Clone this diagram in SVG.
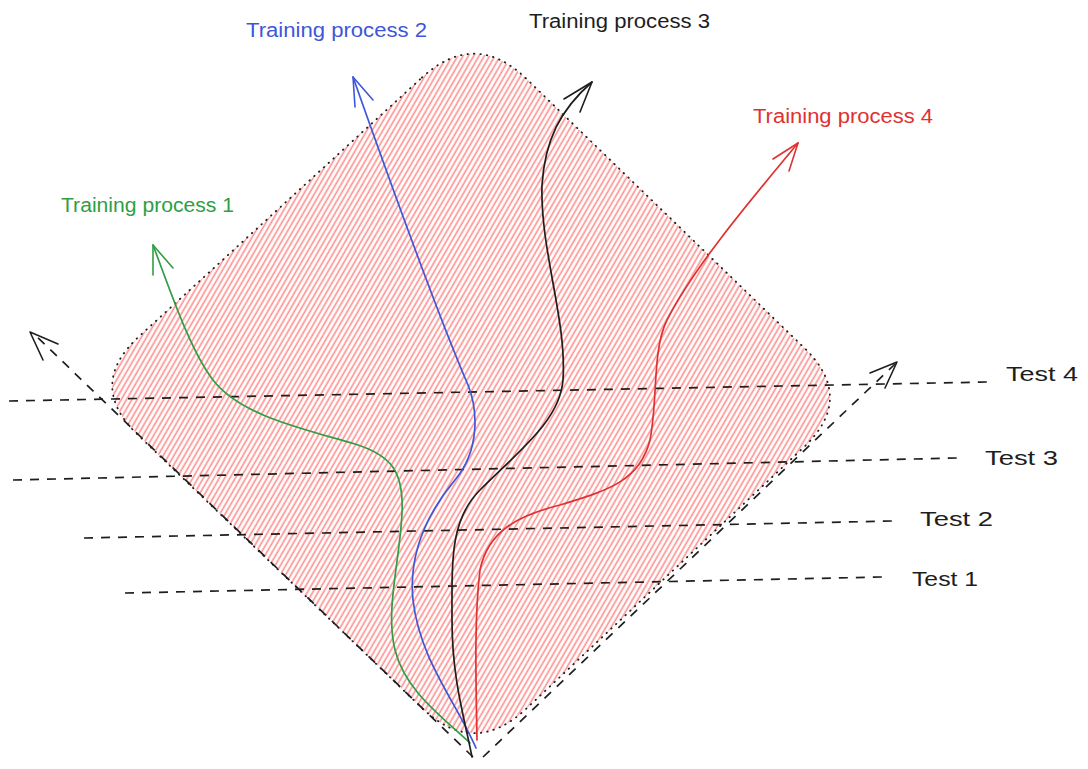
<svg xmlns="http://www.w3.org/2000/svg" width="1088" height="769" viewBox="0 0 1088 769">
<defs>
<pattern id="hatch" width="4.6" height="10" patternUnits="userSpaceOnUse" patternTransform="rotate(30)">
<rect width="4.6" height="10" fill="#ffffff"/>
<line x1="1.2" y1="0" x2="1.2" y2="10" stroke="#ff8f8f" stroke-width="1.6"/>
</pattern>
</defs>
<style>
.lbl{font-family:"Liberation Sans",Arial,sans-serif;font-size:20px;}
.dash{fill:none;stroke:#1e1e1e;stroke-width:1.7;stroke-dasharray:9 8;}
.head{fill:none;stroke-width:1.6;stroke-linecap:round;stroke-linejoin:round;}
.curve{fill:none;stroke-width:1.7;stroke-linecap:round;}
</style>
<rect width="1088" height="769" fill="#ffffff"/>
<g id="region">
<path d="M 421.9 77.6 Q 475 29 526.7 79.1 L 804.3 347.9 Q 856 398 803.6 447.4 L 526.4 708.6 Q 474 758 422.1 708.1 L 137.9 434.9 Q 86 385 139.1 336.4 Z" fill="url(#hatch)" stroke="#1e1e1e" stroke-width="1.8" stroke-dasharray="0.5 6" stroke-linecap="round"/>
</g>
<g id="tests">
<g id="test4"><path class="dash" d="M 9 401 L 988 382"/><text class="lbl" x="1006" y="381" textLength="72" lengthAdjust="spacingAndGlyphs" fill="#1e1e1e">Test 4</text></g>
<g id="test3"><path class="dash" d="M 13 480 L 957 458"/><text class="lbl" x="985" y="465" textLength="73" lengthAdjust="spacingAndGlyphs" fill="#1e1e1e">Test 3</text></g>
<g id="test2"><path class="dash" d="M 84 538 L 893 521"/><text class="lbl" x="920" y="526" textLength="73" lengthAdjust="spacingAndGlyphs" fill="#1e1e1e">Test 2</text></g>
<g id="test1"><path class="dash" d="M 125 593 L 883 577"/><text class="lbl" x="912" y="586" textLength="66" lengthAdjust="spacingAndGlyphs" fill="#1e1e1e">Test 1</text></g>
</g>
<g id="connectors">
<g id="axis-left"><path class="dash" d="M 473 757 L 33 333"/><path class="head" stroke="#1e1e1e" d="M 43 360 L 30 332 L 58 344"/></g>
<g id="axis-right"><path class="dash" d="M 483 757 L 895 364"/><path class="head" stroke="#1e1e1e" d="M 870 373 L 897 362 L 885 388"/></g>
<g id="tp1-curve"><path class="curve" stroke="#2f9e44" d="M 470 743 C 440 715, 405 690, 395 650 C 385 610, 400 560, 402 513 C 404 470, 390 455, 355 444 C 300 428, 240 415, 213 380 C 190 350, 170 290, 153 245"/><path class="head" stroke="#2f9e44" d="M 153 275 L 153 245 L 173 268"/></g>
<g id="tp2-curve"><path class="curve" stroke="#4056d8" d="M 476 748 C 455 700, 420 660, 413 600 C 408 550, 430 510, 455 480 C 480 450, 478 410, 468 385 C 440 320, 400 210, 353 77"/><path class="head" stroke="#4056d8" d="M 355 107 L 353 77 L 373 100"/></g>
<g id="tp3-curve"><path class="curve" stroke="#1e1e1e" d="M 472 757 C 465 720, 452 680, 452 620 C 452 560, 450 520, 480 490 C 520 450, 560 420, 563 380 C 567 320, 540 250, 542 185 C 545 140, 560 110, 592 82"/><path class="head" stroke="#1e1e1e" d="M 564 99 L 592 82 L 580 112"/></g>
<g id="tp4-curve"><path class="curve" stroke="#e03131" d="M 477 740 C 476 680, 474 620, 480 570 C 488 530, 520 515, 560 505 C 610 490, 640 480, 650 440 C 658 400, 652 350, 667 320 C 695 265, 755 195, 798 143"/><path class="head" stroke="#e03131" d="M 773 159 L 798 143 L 789 171"/></g>
</g>
<g id="labels">
<text id="tp1" class="lbl" x="61" y="212" textLength="173" lengthAdjust="spacingAndGlyphs" fill="#2f9e44">Training process 1</text>
<text id="tp2" class="lbl" x="246" y="37" textLength="181" lengthAdjust="spacingAndGlyphs" fill="#4056d8">Training process 2</text>
<text id="tp3" class="lbl" x="529" y="28" textLength="181" lengthAdjust="spacingAndGlyphs" fill="#1e1e1e">Training process 3</text>
<text id="tp4" class="lbl" x="753" y="123" textLength="180" lengthAdjust="spacingAndGlyphs" fill="#e03131">Training process 4</text>
</g>
</svg>
